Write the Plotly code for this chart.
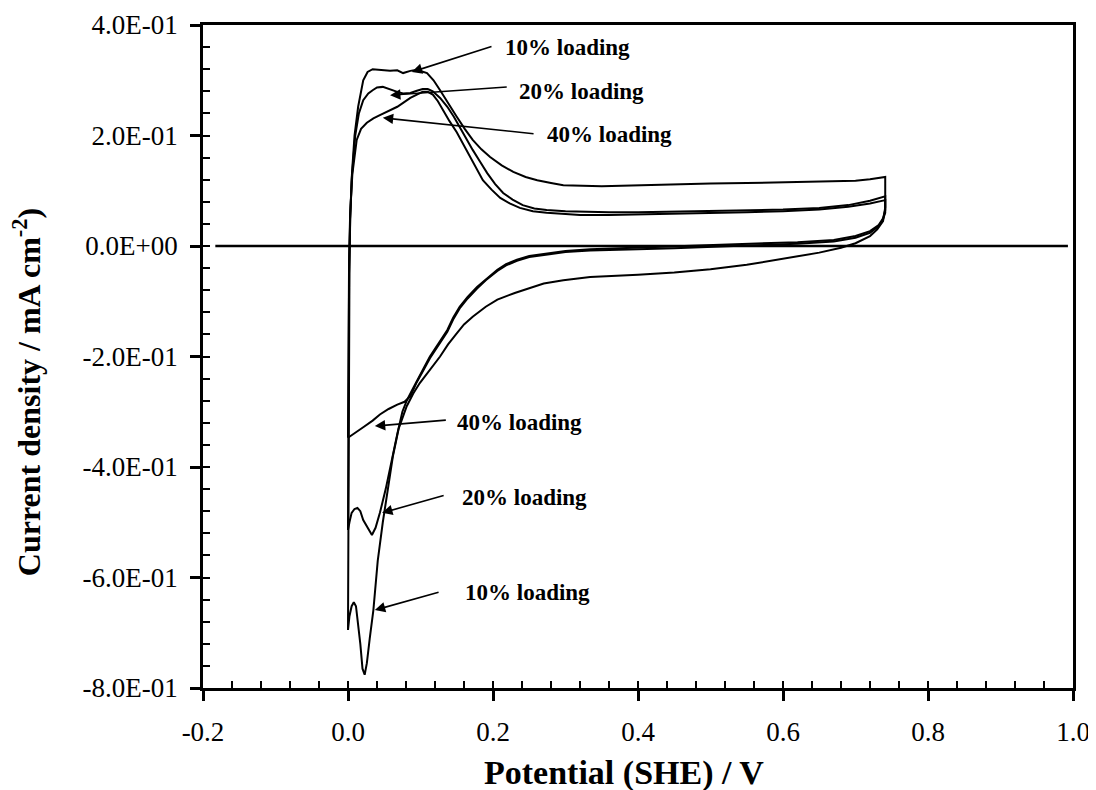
import plotly.graph_objects as go

# ---------------- data ----------------
x_ticks = [-0.2, 0.0, 0.2, 0.4, 0.6, 0.8, 1.0]
x_tick_labels = ["-0.2", "0.0", "0.2", "0.4", "0.6", "0.8", "1.0"]
y_ticks = [-0.8, -0.6, -0.4, -0.2, 0.0, 0.2, 0.4]
y_tick_labels = ["-8.0E-01", "-6.0E-01", "-4.0E-01", "-2.0E-01", "0.0E+00", "2.0E-01", "4.0E-01"]

series_names = ["10% loading", "20% loading", "40% loading"]

# 10% loading : anodic sweep then cathodic sweep
e10 = [0.000, 0.001, 0.002, 0.003, 0.0055, 0.009, 0.014, 0.021, 0.027, 0.034, 0.046, 0.058, 0.068, 0.076,
       0.086, 0.095, 0.109, 0.118, 0.127, 0.138, 0.150, 0.161, 0.172, 0.184, 0.196, 0.212, 0.228, 0.245,
       0.261, 0.280, 0.297, 0.350, 0.400, 0.450, 0.500, 0.550, 0.600, 0.650, 0.700, 0.720, 0.741,
       0.741, 0.738, 0.730, 0.720, 0.700, 0.680, 0.650, 0.620, 0.580, 0.550, 0.500, 0.450, 0.400, 0.360,
       0.334, 0.297, 0.270, 0.251, 0.230, 0.206, 0.190, 0.172, 0.160, 0.150, 0.138, 0.127, 0.118, 0.109,
       0.099, 0.090, 0.081, 0.070, 0.062, 0.055, 0.048, 0.041, 0.035, 0.030, 0.026, 0.023, 0.020, 0.017,
       0.014, 0.011, 0.008, 0.005, 0.002, 0.000]
i10 = [-0.695, -0.300, -0.050, 0.050, 0.132, 0.200, 0.252, 0.300, 0.315, 0.320, 0.319, 0.317, 0.318, 0.313,
       0.317, 0.319, 0.313, 0.300, 0.282, 0.258, 0.234, 0.212, 0.192, 0.175, 0.161, 0.146, 0.134, 0.125,
       0.119, 0.114, 0.110, 0.108, 0.110, 0.112, 0.113, 0.114, 0.115, 0.116, 0.118, 0.121, 0.125,
       0.070, 0.045, 0.030, 0.018, 0.005, -0.003, -0.012, -0.019, -0.028, -0.034, -0.042, -0.048, -0.052, -0.054,
       -0.056, -0.062, -0.068, -0.076, -0.085, -0.097, -0.110, -0.128, -0.142, -0.158, -0.178, -0.200, -0.215, -0.230,
       -0.248, -0.267, -0.290, -0.330, -0.380, -0.440, -0.500, -0.570, -0.659, -0.710, -0.755, -0.776, -0.765, -0.720,
       -0.680, -0.652, -0.645, -0.652, -0.670, -0.695]

# 20% loading
e20 = [0.000, 0.0005, 0.0015, 0.003, 0.005, 0.010, 0.015, 0.021, 0.028, 0.034, 0.040, 0.048, 0.056, 0.068,
       0.076, 0.086, 0.095, 0.103, 0.110, 0.117, 0.127, 0.137, 0.146, 0.154, 0.163, 0.172, 0.182, 0.192,
       0.203, 0.214, 0.227, 0.241, 0.257, 0.274, 0.300, 0.320, 0.360, 0.400, 0.450, 0.500, 0.550, 0.600,
       0.650, 0.690, 0.720, 0.741,
       0.741, 0.738, 0.732, 0.720, 0.700, 0.670, 0.620, 0.550, 0.500, 0.450, 0.400, 0.334, 0.300, 0.274,
       0.250, 0.233, 0.218, 0.206, 0.190, 0.178, 0.165, 0.154, 0.145, 0.137, 0.125, 0.113, 0.104, 0.095,
       0.088, 0.081, 0.075, 0.068, 0.060, 0.052, 0.044, 0.038, 0.033, 0.028, 0.021, 0.017, 0.013, 0.009,
       0.005, 0.002, 0.000]
i20 = [-0.514, -0.300, -0.050, 0.050, 0.120, 0.200, 0.240, 0.264, 0.276, 0.282, 0.287, 0.288, 0.284, 0.279,
       0.276, 0.277, 0.281, 0.284, 0.284, 0.280, 0.268, 0.252, 0.234, 0.215, 0.195, 0.174, 0.153, 0.132,
       0.112, 0.096, 0.084, 0.074, 0.068, 0.065, 0.063, 0.062, 0.061, 0.061, 0.062, 0.063, 0.064, 0.066,
       0.069, 0.074, 0.082, 0.090,
       0.065, 0.050, 0.038, 0.027, 0.018, 0.011, 0.007, 0.004, 0.001, -0.001, -0.003, -0.006, -0.009, -0.013,
       -0.018, -0.025, -0.033, -0.043, -0.060, -0.074, -0.092, -0.110, -0.130, -0.152, -0.176, -0.200, -0.222, -0.243,
       -0.262, -0.280, -0.300, -0.340, -0.390, -0.440, -0.483, -0.510, -0.523, -0.512, -0.496, -0.480, -0.474, -0.476,
       -0.483, -0.500, -0.514]

# 40% loading
e40 = [0.000, 0.0005, 0.0015, 0.003, 0.006, 0.012, 0.018, 0.026, 0.035, 0.044, 0.056, 0.068, 0.077, 0.086,
       0.095, 0.103, 0.110, 0.117, 0.124, 0.131, 0.140, 0.150, 0.159, 0.168, 0.177, 0.186, 0.198, 0.210,
       0.223, 0.237, 0.255, 0.274, 0.300, 0.320, 0.360, 0.400, 0.450, 0.500, 0.550, 0.600, 0.650, 0.690,
       0.720, 0.741,
       0.741, 0.737, 0.730, 0.720, 0.700, 0.670, 0.620, 0.550, 0.500, 0.450, 0.400, 0.334, 0.300, 0.274,
       0.250, 0.233, 0.218, 0.206, 0.190, 0.178, 0.165, 0.154, 0.145, 0.137, 0.125, 0.113, 0.104, 0.095,
       0.086, 0.078, 0.068, 0.056, 0.044, 0.034, 0.021, 0.010, 0.003, 0.000]
i40 = [-0.347, -0.200, -0.020, 0.060, 0.130, 0.192, 0.212, 0.223, 0.231, 0.237, 0.244, 0.252, 0.260, 0.268,
       0.274, 0.279, 0.279, 0.274, 0.262, 0.246, 0.226, 0.206, 0.184, 0.161, 0.140, 0.119, 0.102, 0.087,
       0.077, 0.069, 0.063, 0.060, 0.058, 0.056, 0.056, 0.057, 0.058, 0.059, 0.061, 0.063, 0.066, 0.071,
       0.077, 0.083,
       0.060, 0.045, 0.034, 0.024, 0.015, 0.008, 0.004, 0.001, -0.002, -0.004, -0.006, -0.008, -0.011, -0.015,
       -0.020, -0.027, -0.035, -0.045, -0.062, -0.077, -0.095, -0.113, -0.133, -0.155, -0.179, -0.203, -0.225, -0.246,
       -0.272, -0.282, -0.287, -0.295, -0.305, -0.316, -0.328, -0.338, -0.345, -0.347]

zero_line_x = [-0.183, 0.993]
zero_line_y = [0.0, 0.0]

# ---------------- figure ----------------
FONT = "Liberation Serif"
fig = go.Figure()

for e, i, name in [(e10, i10, series_names[0]), (e20, i20, series_names[1]), (e40, i40, series_names[2])]:
    fig.add_trace(go.Scatter(x=e, y=i, mode="lines", name=name,
                             line=dict(color="black", width=2.0), showlegend=False))

# zero line (drawn on the overlay axes that carry the inside ticks)
fig.add_trace(go.Scatter(x=zero_line_x, y=zero_line_y, mode="lines", xaxis="x2", yaxis="y2",
                         line=dict(color="black", width=2.6), showlegend=False, hoverinfo="skip"))

axis_font = dict(family=FONT, size=27, color="black")

# the page body adds an 8 px margin; the paper starts at (8, 8) on screen
fig.update_layout(
    width=1088, height=782,
    margin=dict(l=195, r=23, t=17, b=102, autoexpand=False),
    paper_bgcolor="white", plot_bgcolor="white",
    xaxis=dict(range=[-0.2, 1.0], showline=True, linecolor="black", linewidth=2.6, mirror=True,
               ticks="outside", ticklen=10, tickwidth=2.6, tickcolor="black",
               tickvals=x_ticks, ticktext=x_tick_labels, tickfont=axis_font,
               ticklabelstandoff=8, showgrid=False, zeroline=False, automargin=False),
    yaxis=dict(range=[-0.8, 0.4], showline=True, linecolor="black", linewidth=2.6, mirror=True,
               ticks="outside", ticklen=10, tickwidth=2.6, tickcolor="black",
               tickvals=y_ticks, ticktext=y_tick_labels, tickfont=axis_font,
               ticklabelstandoff=7, showgrid=False, zeroline=False, automargin=False),
    xaxis2=dict(range=[-0.2, 1.0], overlaying="x", anchor="y2", side="bottom",
                ticks="inside", ticklen=7, tickwidth=2.2, tickcolor="black",
                tick0=-0.2, dtick=0.04, showticklabels=False, showline=False,
                showgrid=False, zeroline=False, automargin=False),
    yaxis2=dict(range=[-0.8, 0.4], overlaying="y", anchor="x2", side="left",
                ticks="inside", ticklen=7, tickwidth=2.2, tickcolor="black",
                tick0=-0.8, dtick=0.04, showticklabels=False, showline=False,
                showgrid=False, zeroline=False, automargin=False),
)

# axis titles
fig.add_annotation(text="<b>Potential (SHE) / V</b>", xref="paper", yref="paper",
                   x=0.4835, y=-0.128, xanchor="center", yanchor="middle", showarrow=False,
                   font=dict(family=FONT, size=34, color="black"))
fig.add_annotation(text="<b>Current density / mA cm<sup>-2</sup>)</b>", xref="paper", yref="paper",
                   x=-0.2025, y=0.446, xanchor="center", yanchor="middle", showarrow=False,
                   textangle=-90, font=dict(family=FONT, size=32, color="black"))

# arrows (head, tail) and labels
arrows = [
    ((0.088, 0.315), (0.200, 0.362)),
    ((0.058, 0.273), (0.221, 0.288)),
    ((0.048, 0.232), (0.258, 0.203)),
    ((0.037, -0.326), (0.137, -0.315)),
    ((0.047, -0.483), (0.134, -0.451)),
    ((0.037, -0.659), (0.127, -0.626)),
]
for (hx, hy), (tx, ty) in arrows:
    fig.add_annotation(x=hx, y=hy, ax=tx, ay=ty, xref="x", yref="y", axref="x", ayref="y",
                       text="", showarrow=True, arrowhead=2, arrowsize=1.3, arrowwidth=1.6,
                       arrowcolor="black")

labels = [
    (0.2138, 0.360, series_names[0]),
    (0.2331, 0.279, series_names[1]),
    (0.2717, 0.201, series_names[2]),
    (0.1476, -0.320, series_names[2]),
    (0.1545, -0.456, series_names[1]),
    (0.1586, -0.628, series_names[0]),
]
for lx, ly, txt in labels:
    fig.add_annotation(x=lx, y=ly, xref="x", yref="y", text="<b>" + txt + "</b>",
                       showarrow=False, xanchor="left", yanchor="middle",
                       font=dict(family=FONT, size=23, color="black"))

fig.write_html("out.html")
